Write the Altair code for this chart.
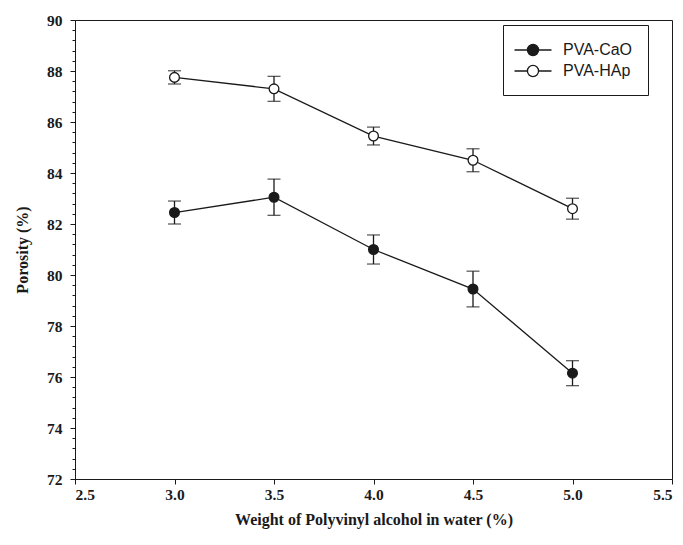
import altair as alt
import pandas as pd

x_vals = [3.0, 3.5, 4.0, 4.5, 5.0]
cao = [82.45, 83.05, 81.0, 79.45, 76.15]
cao_err = [0.45, 0.71, 0.57, 0.7, 0.49]
hap = [87.75, 87.3, 85.45, 84.5, 82.6]
hap_err = [0.26, 0.49, 0.35, 0.45, 0.41]
series = ["PVA-CaO", "PVA-HAp"]

x_ticks = [2.5, 3.0, 3.5, 4.0, 4.5, 5.0, 5.5]
y_major = [72, 74, 76, 78, 80, 82, 84, 86, 88, 90]
y_minor = [round(72 + 0.4 * i, 1) for i in range(46)]

rows = []
for name, ys, es in [(series[0], cao, cao_err), (series[1], hap, hap_err)]:
    for x, y, e in zip(x_vals, ys, es):
        rows.append({"x": x, "y": y, "lo": y - e, "hi": y + e, "s": name})
df = pd.DataFrame(rows)

ink = "#1a1a1a"
xs = alt.Scale(domain=[2.5, 5.5], nice=False, zero=False)
ys_ = alt.Scale(domain=[72, 90], nice=False, zero=False)

x_enc = alt.X("x:Q", scale=xs, axis=alt.Axis(
    values=x_ticks, format=".1f", title="Weight of Polyvinyl alcohol in water (%)",
    grid=False, tickSize=5, labelPadding=3, titlePadding=9))
y_enc = alt.Y("y:Q", scale=ys_, axis=alt.Axis(
    values=y_major, format="d", tickSize=5,
    title="Porosity (%)", grid=False, labelPadding=8, titlePadding=16))

base = alt.Chart(df)

lines = base.mark_line(color=ink, strokeWidth=1.3).encode(
    x=x_enc, y=y_enc, detail="s:N")

minor = base.mark_point(opacity=0).encode(
    x=alt.X("x:Q", scale=xs),
    y=alt.Y("y:Q", scale=ys_, axis=alt.Axis(
        orient="left", values=y_minor, labels=False, domain=False, title=None,
        tickSize=3, grid=False)))

rules = base.mark_rule(color=ink, strokeWidth=1.3).encode(
    x="x:Q", y=alt.Y("lo:Q", axis=None), y2="hi:Q")
caps_lo = base.mark_tick(color=ink, thickness=1.3, size=13, orient="horizontal").encode(
    x="x:Q", y=alt.Y("lo:Q", axis=None))
caps_hi = base.mark_tick(color=ink, thickness=1.3, size=13, orient="horizontal").encode(
    x="x:Q", y=alt.Y("hi:Q", axis=None))

legend_path = ("M-2,0L-0.6,0M0.6,0L2,0"
               "M-0.6,0A0.6,0.6 0 1,0 0.6,0A0.6,0.6 0 1,0 -0.6,0Z")

points = base.mark_point(shape="circle", size=95, stroke=ink, strokeWidth=1.3, opacity=1,
                         filled=False).encode(
    x="x:Q", y=alt.Y("y:Q", axis=None),
    fill=alt.Fill("s:N", scale=alt.Scale(domain=series, range=[ink, "white"]),
                  legend=alt.Legend(
                      title=None, orient="none", legendX=428, legendY=5,
                      symbolType=legend_path, symbolSize=342, symbolStrokeColor=ink,
                      symbolStrokeWidth=1.3, symbolOpacity=1, symbolOffset=5,
                      labelFont="Liberation Sans", labelFontSize=16, labelColor=ink,
                      strokeColor=ink, fillColor="white", padding=15, rowPadding=2,
                      labelOffset=20)),
)

chart = alt.layer(lines, minor, rules, caps_lo, caps_hi, points).resolve_axis(
    y="independent"
).properties(
    width=597, height=459,
    autosize=alt.AutoSizeParams(type="none"),
    padding={"left": 75, "top": 20, "right": 11, "bottom": 66},
).configure_view(stroke=ink, strokeWidth=1).configure_axis(
    labelFont="Liberation Serif", labelFontWeight="bold", labelFontSize=15.5, labelColor=ink,
    titleFont="Liberation Serif", titleFontWeight="bold", titleFontSize=16, titleColor=ink,
    domainColor=ink, tickColor=ink, domainWidth=1, tickWidth=1,
)

chart.save("out.html", embed_options={"renderer": "svg", "actions": False})
